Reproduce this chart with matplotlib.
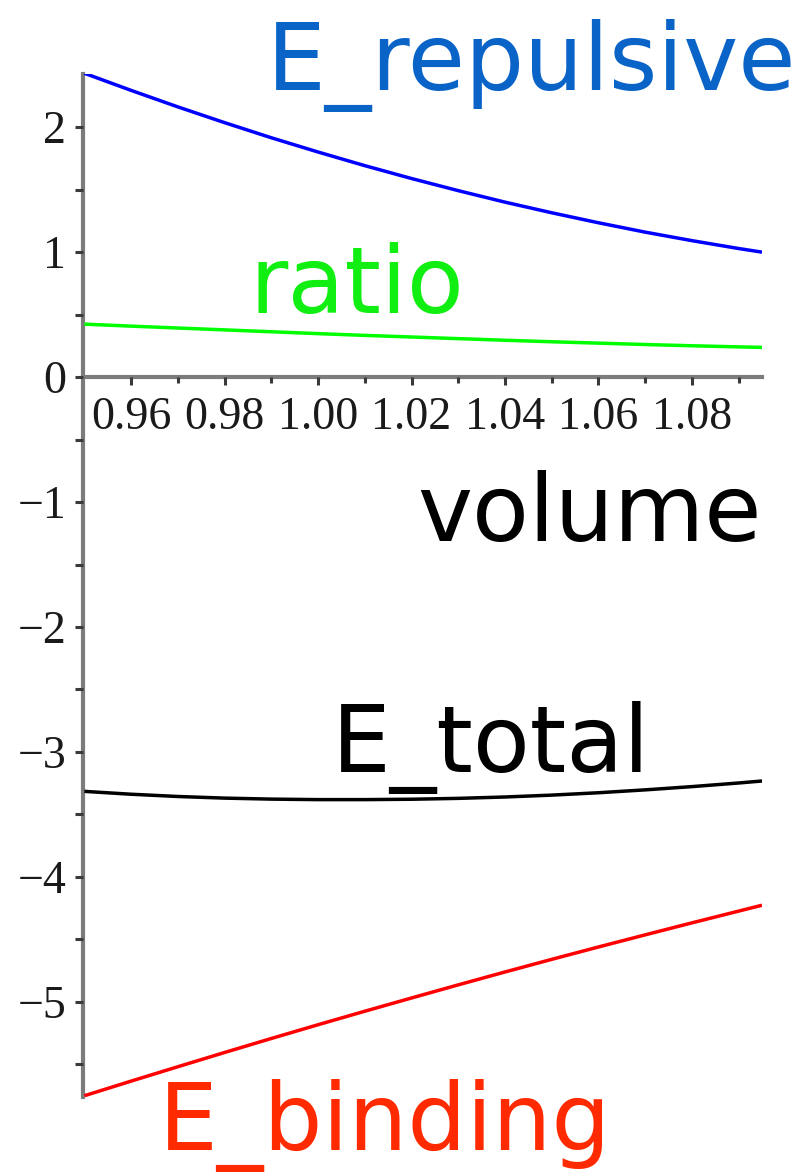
import numpy as np
import matplotlib
matplotlib.use("Agg")
import matplotlib.pyplot as plt
from matplotlib.ticker import MultipleLocator, FixedLocator, FormatStrFormatter

# Cell volume (relative) and energy components
volume = [0.95, 0.96, 0.97, 0.98, 0.99, 1.00, 1.01, 1.02, 1.03, 1.04,
          1.05, 1.06, 1.07, 1.08, 1.09, 1.095]
e_repulsive = [2.430, 2.293, 2.161, 2.035, 1.914, 1.800, 1.691, 1.588, 1.491, 1.399,
               1.314, 1.234, 1.159, 1.091, 1.028, 0.999]
e_binding = [-5.750, -5.633, -5.518, -5.404, -5.292, -5.182, -5.074, -4.968, -4.863, -4.760,
             -4.659, -4.560, -4.463, -4.367, -4.273, -4.226]
e_total = [-3.315, -3.338, -3.356, -3.369, -3.377, -3.381, -3.381, -3.378, -3.371, -3.360,
           -3.345, -3.326, -3.303, -3.277, -3.248, -3.232]
ratio = [0.423, 0.407, 0.392, 0.377, 0.362, 0.347, 0.333, 0.320, 0.307, 0.294,
         0.282, 0.271, 0.260, 0.250, 0.241, 0.237]

x_major = [0.96, 0.98, 1.00, 1.02, 1.04, 1.06, 1.08]
x_minor = [0.97, 0.99, 1.01, 1.03, 1.05, 1.07, 1.09]
y_major = [-5, -4, -3, -2, -1, 0, 1, 2]

W, H = 810, 1172
fig = plt.figure(figsize=(W / 100, H / 100), dpi=100)
ax = fig.add_axes([83 / W, 0.06433, 679 / W, 0.87262])

for series, col in ((e_repulsive, "#0000ff"), (ratio, "#00ff00"),
                    (e_total, "#000000"), (e_binding, "#ff0000")):
    ax.plot(volume, series, color=col, lw=2.5, solid_capstyle="butt",
            solid_joinstyle="round")

ax.set_xlim(0.9497, 1.095)
ax.set_ylim(-5.757, 2.425)

axis_grey = "#7c7c7c"
for side in ("top", "right"):
    ax.spines[side].set_visible(False)
ax.spines["bottom"].set_position(("data", 0))
for side in ("left", "bottom"):
    ax.spines[side].set_color(axis_grey)
    ax.spines[side].set_linewidth(3.0)
    ax.spines[side].set_zorder(1)

ax.xaxis.set_major_locator(FixedLocator(x_major))
ax.xaxis.set_minor_locator(FixedLocator(x_minor))
ax.xaxis.set_major_formatter(FormatStrFormatter("%.2f"))
ax.yaxis.set_major_locator(FixedLocator(y_major))
ax.yaxis.set_minor_locator(MultipleLocator(0.5))

ax.tick_params(axis="x", which="major", direction="out", length=6, width=2.2,
               color="#3a3a3a", pad=8)
ax.tick_params(axis="x", which="minor", direction="out", length=4, width=2.2,
               color="#3a3a3a")
ax.tick_params(axis="y", which="both", direction="out", length=6, width=2.2,
               color="#3a3a3a", pad=6)
for lab in ax.get_xticklabels() + ax.get_yticklabels():
    lab.set_fontfamily("Liberation Serif")
    lab.set_fontsize(33)
    lab.set_color("#1a1a1a")

# Curve names written across the plot
label_font = ["DejaVu Sans"]
labels = [
    ("E_repulsive", 267, 90, "#0a64c8"),
    ("ratio", 249, 313, "#11ee11"),
    ("volume", 417, 541, "#000000"),
    ("E_total", 332, 772, "#000000"),
    ("E_binding", 159, 1150, "#ff2a00"),
]
for text, px, py, col in labels:
    fig.text(px / W, 1 - py / H, text, color=col, fontsize=67,
             family=label_font, ha="left", va="baseline")

fig.savefig("out.png", dpi=100, facecolor="white")
